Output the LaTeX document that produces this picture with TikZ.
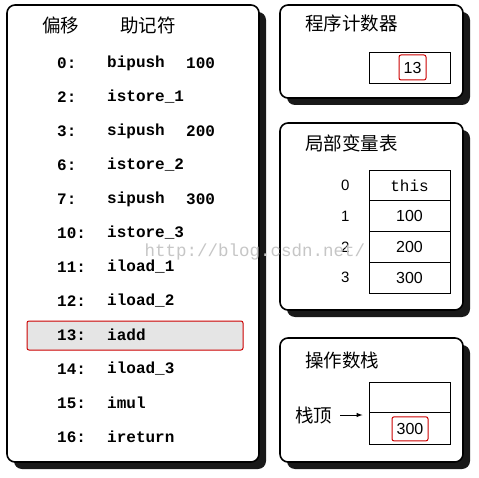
\documentclass[tikz,border=0pt]{standalone}
\usepackage{fontspec}
\setmainfont{Liberation Sans}
\setmonofont{Liberation Mono}
\newfontfamily\cjk{Noto Sans CJK SC}
\usetikzlibrary{arrows}
\usetikzlibrary{positioning}
\usetikzlibrary{shadows}
\tikzstyle{every panel} = [drop shadow={shadow xshift=7pt, shadow yshift=-7pt, fill=black, opacity=0.9}]
\tikzstyle{panel} = [rectangle, rounded corners=8pt, draw, black, line width=1.6pt, fill=white, every panel]
\tikzstyle{title} = [font=\cjk\fontsize{18.5}{20}\selectfont, anchor=west, inner sep=0pt]
\tikzstyle{code} = [font=\ttfamily\bfseries\fontsize{16}{18}\selectfont, anchor=west, inner sep=0pt]
\tikzstyle{cell} = [rectangle, draw, black, line width=1pt, minimum width=81pt, minimum height=30.75pt, font=\fontsize{16}{18}\selectfont, outer sep=0pt]
\tikzstyle{current} = [rectangle, rounded corners=2pt, draw=red!80!black, line width=1pt, inner sep=0pt, font=\fontsize{16}{18}\selectfont]
\tikzstyle{index} = [font=\fontsize{15}{18}\selectfont]
\tikzstyle{watermark} = [font=\ttfamily\fontsize{17.5}{18}\selectfont, text=gray!45]

\begin{document}
\begin{tikzpicture}[x=1pt, y=-1pt]
  \useasboundingbox (0,0) rectangle (479,478);
  % bytecode listing
  \node[panel, minimum width=252pt, minimum height=457pt] (code) at (133,233.5) {};
  \node[title] (offset) at (42,25) {偏移};
  \node[title] (mnemonic) at (120,25) {助记符};
  \node[current, fill=gray!20, minimum width=216pt, minimum height=29pt] (pcline) at (135,335.5) {};
  \foreach \off/\op/\arg [count=\i from 0] in {0/bipush/100, 2/istore\_1/, 3/sipush/200, 6/istore\_2/,
      7/sipush/300, 10/istore\_3/, 11/iload\_1/, 12/iload\_2/, 13/iadd/, 14/iload\_3/, 15/imul/, 16/ireturn/} {
    \node[code] (off\i) at (57,63+34*\i) {\off:};
    \node[code] (op\i) at (107,63+34*\i) {\op};
    \node[code] (arg\i) at (186,63+34*\i) {\arg};
  }
  % program counter
  \node[panel, minimum width=183pt, minimum height=93pt] (pcpanel) at (371.5,51.5) {};
  \node[title] (pctitle) at (305,23) {程序计数器};
  \node[cell] (pcbox) at (409.5,68) {};
  \node[current, minimum width=27pt, minimum height=25pt] (pcval) at (412.5,67.5) {13};
  % local variables
  \node[panel, minimum width=183pt, minimum height=187pt] (lvtpanel) at (371.5,216.5) {};
  \node[title] (lvttitle) at (305,143) {局部变量表};
  \node[cell, font=\ttfamily\fontsize{16}{18}\selectfont] (var0) at (409.5,185.5) {this};
  \node[cell] (var1) [below=0pt of var0] {100};
  \node[cell] (var2) [below=0pt of var1] {200};
  \node[cell] (var3) [below=0pt of var2] {300};
  \foreach \i in {0,...,3}
    \node[index] (idx\i) [left=16pt of var\i] {\i};
  % operand stack
  \node[panel, minimum width=183pt, minimum height=124pt] (stackpanel) at (371.5,400) {};
  \node[title] (stacktitle) at (305,360) {操作数栈};
  \node[cell] (slot1) at (410,397.5) {};
  \node[cell, minimum height=32pt] (slot0) [below=0pt of slot1] {};
  \node[current, minimum width=36pt, minimum height=24pt] (topval) at (slot0) {300};
  \node[title] (toplabel) at (295,415) {栈顶};
  \draw[-latex, line width=1pt, shorten <=8pt, shorten >=7pt] (toplabel.east) -- (toplabel.east -| slot0.west);
  \node[watermark] (wm) at (255,252) {http://blog.csdn.net/};
\end{tikzpicture}
\end{document}
